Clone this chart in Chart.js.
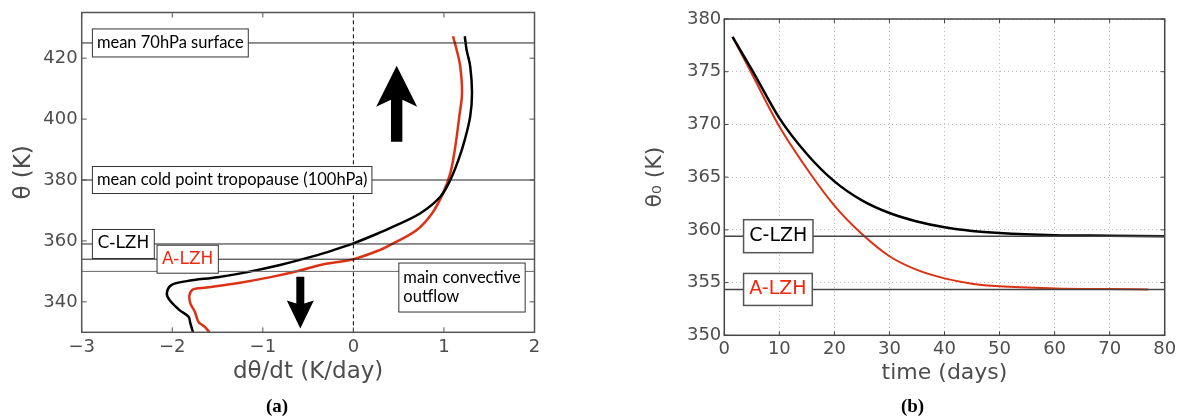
<!DOCTYPE html>
<html>
<head>
<meta charset="utf-8">
<script src="https://cdn.jsdelivr.net/npm/chart.js@4"></script>
<style>
  body { margin: 0; background: #fff; }
  #wrap { position: relative; width: 1177px; height: 418px; }
  canvas { position: absolute; top: 0; }
</style>
</head>
<body>
<div id="wrap">
  <canvas id="chartA" width="580" height="418" style="left:0"></canvas>
  <canvas id="chartB" width="597" height="418" style="left:580px"></canvas>
</div>
<script>
// ---- panel (a): heating-rate profiles, theta against dtheta/dt ----
const rateTicks = [-3, -2, -1, 0, 1, 2];
const thetaTicks = [340, 360, 380, 400, 420];
const rateRange = [-3, 2];
const thetaRange = [330, 435];
const refLevels = [425, 380, 359, 354, 350];   // 70hPa, cold point, C-LZH, A-LZH, outflow

// C-LZH profile (black)
const thetaC = [330, 332.9, 335.1, 337.3, 340.6, 342.8, 345.5, 346.8, 348.1, 349.6, 352.1, 355.0, 357.0, 359.2, 362.7, 364.7, 369.1, 374.5, 380.0, 386.6, 393.2, 400.9, 408.6, 417.3, 422.8, 427.2];
const rateC  = [-1.77, -1.80, -1.82, -1.92, -2.03, -2.06, -2.01, -1.84, -1.50, -1.20, -0.81, -0.44, -0.22, 0.0, 0.29, 0.44, 0.74, 0.96, 1.07, 1.16, 1.23, 1.29, 1.31, 1.29, 1.25, 1.23];
// A-LZH profile (red)
const thetaA = [330, 331.8, 333.4, 336.7, 339.5, 342.2, 344.1, 344.7, 346.3, 348.2, 350.2, 352.2, 354.0, 357.0, 359.2, 363.6, 369.1, 375.7, 382.2, 389.9, 400.9, 408.6, 417.3, 422.8, 427.2];
const rateA  = [-1.59, -1.64, -1.71, -1.75, -1.80, -1.81, -1.77, -1.62, -1.25, -0.90, -0.60, -0.35, 0.0, 0.29, 0.44, 0.70, 0.87, 0.99, 1.07, 1.12, 1.17, 1.20, 1.18, 1.14, 1.10];

// ---- panel (b): theta_0 against time ----
const timeTicks = [0, 10, 20, 30, 40, 50, 60, 70, 80];
const theta0Ticks = [350, 355, 360, 365, 370, 375, 380];
const lzhLevels = [359.4, 354.35];
const daysC   = [1.5, 5, 10, 15, 20, 25, 30, 35, 40, 45, 50, 60, 70, 80];
const theta0C = [378.3, 375.2, 370.6, 367.2, 364.6, 362.8, 361.6, 360.8, 360.25, 359.9, 359.7, 359.5, 359.45, 359.4];
const daysA   = [1.5, 5, 10, 15, 20, 25, 30, 35, 40, 45, 50, 60, 70, 77];
const theta0A = [378.3, 374.8, 369.8, 365.8, 362.3, 359.6, 357.5, 356.2, 355.4, 354.9, 354.65, 354.45, 354.38, 354.35];

const RED = '#dc3214';
const GREY = '#4d4d4d';
const SANS = '"DejaVu Sans", sans-serif';
const GILL = '16.5px Lato, sans-serif';

const pts = (xs, ys) => xs.map((v, i) => ({ x: v, y: ys[i] }));
const minus = v => (v < 0 ? '\u2212' + Math.abs(v) : String(v));

// boxes, arrows, frame with inward ticks, caption
const deco = {
  id: 'deco',
  afterDatasetsDraw(chart, args, opts) {
    const { ctx, chartArea: a, scales: { x, y } } = chart;
    ctx.save();
    (opts.arrows || []).forEach(ar => {
      const px = x.getPixelForValue(ar.x);
      const p0 = y.getPixelForValue(ar.from);
      const p1 = y.getPixelForValue(ar.to);
      const dir = Math.sign(p1 - p0);
      const base = p1 - dir * ar.head;
      const join = base + dir * ar.notch;
      ctx.beginPath();
      ctx.moveTo(px, p1);
      ctx.lineTo(px + ar.hw, base);
      ctx.lineTo(px + ar.sw, join);
      ctx.lineTo(px + ar.sw, p0);
      ctx.lineTo(px - ar.sw, p0);
      ctx.lineTo(px - ar.sw, join);
      ctx.lineTo(px - ar.hw, base);
      ctx.closePath();
      ctx.fillStyle = '#000';
      ctx.fill();
    });
    (opts.boxes || []).forEach(b => {
      ctx.font = b.font;
      const w = Math.max(...b.lines.map(l => ctx.measureText(l).width)) + 2 * b.pad;
      const left = x.getPixelForValue(b.x);
      const cy = y.getPixelForValue(b.y);
      const top = cy - b.h / 2;
      ctx.fillStyle = '#fff';
      ctx.fillRect(left, top, w, b.h);
      ctx.strokeStyle = opts.boxBorder;
      ctx.lineWidth = opts.boxWidth;
      ctx.strokeRect(left, top, w, b.h);
      ctx.fillStyle = b.color || '#000';
      ctx.textBaseline = 'middle';
      ctx.textAlign = 'left';
      b.lines.forEach((l, i) => {
        const ly = cy + (i - (b.lines.length - 1) / 2) * (b.lineGap || 0);
        ctx.fillText(l, left + b.pad, ly);
      });
    });
    // frame and inward ticks
    ctx.strokeStyle = opts.frameColor;
    ctx.lineWidth = 1.5;
    ctx.strokeRect(a.left, a.top, a.right - a.left, a.bottom - a.top);
    ctx.lineWidth = 1;
    ctx.beginPath();
    x.ticks.forEach(t => {
      const p = x.getPixelForValue(t.value);
      ctx.moveTo(p, a.bottom); ctx.lineTo(p, a.bottom - opts.tick);
      ctx.moveTo(p, a.top); ctx.lineTo(p, a.top + opts.tick);
    });
    y.ticks.forEach(t => {
      const p = y.getPixelForValue(t.value);
      ctx.moveTo(a.left, p); ctx.lineTo(a.left + opts.tick, p);
      ctx.moveTo(a.right, p); ctx.lineTo(a.right - opts.tick, p);
    });
    ctx.stroke();
    // caption
    ctx.font = 'bold 19px "Liberation Serif", serif';
    ctx.fillStyle = '#000';
    ctx.textAlign = 'center';
    ctx.textBaseline = 'alphabetic';
    ctx.fillText(opts.caption.text, opts.caption.x, opts.caption.y);
    ctx.restore();
  }
};

function axis(min, max, ticks, fmt, title, titleFont, titlePad, size) {
  return {
    type: 'linear', min, max,
    grid: { display: false, drawTicks: false },
    border: { display: false },
    afterBuildTicks: s => { s.ticks = ticks.map(v => ({ value: v })); },
    ticks: { callback: fmt, color: GREY, padding: 4, font: { family: SANS, size: 18 } },
    title: { display: true, text: title, color: GREY, font: { family: SANS, size: titleFont }, padding: titlePad },
    afterFit: s => {
      if (s.isHorizontal()) s.height = size; else s.width = size;
      s.paddingTop = 0; s.paddingBottom = 0; s.paddingLeft = 0; s.paddingRight = 0;
    }
  };
}

const line = (data, color, width, extra) => Object.assign({
  data, borderColor: color, borderWidth: width, showLine: true, pointRadius: 0, fill: false
}, extra || {});

new Chart(document.getElementById('chartA'), {
  type: 'scatter',
  data: {
    datasets: [
      ...refLevels.map((v, i) => line(pts(rateRange, [v, v]), i === 4 ? '#666' : '#222', 1)),
      line(pts([0, 0], thetaRange), '#000', 1, { borderDash: [4, 3] }),
      line(pts(rateC, thetaC), '#000', 2.5, { tension: 0.35 }),
      line(pts(rateA, thetaA), RED, 2.5, { tension: 0.35 })
    ]
  },
  options: {
    responsive: false, animation: false, events: [],
    layout: { padding: { left: 0, top: 12.5, right: 45.5, bottom: 0 } },
    plugins: {
      legend: { display: false }, tooltip: { enabled: false },
      deco: {
        frameColor: '#555', tick: 5, boxBorder: '#333', boxWidth: 1,
        caption: { text: '(a)', x: 277, y: 412 },
        arrows: [
          { x: 0.478, from: 392.6, to: 417.5, head: 41, hw: 20.5, sw: 5.7, notch: 7 },
          { x: -0.586, from: 348.2, to: 331.25, head: 28, hw: 13.5, sw: 4, notch: 3 }
        ],
        boxes: [
          { x: -2.882, y: 425, h: 28, pad: 4.5, font: GILL, lines: ['mean 70hPa surface'] },
          { x: -2.882, y: 380, h: 27, pad: 4.5, font: GILL, lines: ['mean cold point tropopause (100hPa)'] },
          { x: -2.882, y: 359, h: 29, pad: 5, font: '17px ' + SANS, lines: ['C-LZH'] },
          { x: -2.168, y: 354, h: 28, pad: 5, font: '17px ' + SANS, lines: ['A-LZH'], color: '#f02810' },
          { x: 0.502, y: 344.7, h: 49, pad: 4.5, font: GILL, lineGap: 19, lines: ['main convective', 'outflow'] }
        ]
      }
    },
    scales: {
      x: axis(rateRange[0], rateRange[1], rateTicks, minus, 'd\u03b8/dt (K/day)', 23, { top: 0, bottom: 32 }, 85.7),
      y: axis(thetaRange[0], thetaRange[1], thetaTicks, minus, '\u03b8 (K)', 23, { top: 10, bottom: 0 }, 81.7)
    }
  },
  plugins: [deco]
});

const chartBScales = {
  x: axis(0, 80, timeTicks, minus, 'time (days)', 22, { top: 0, bottom: 32 }, 82.7),
  y: axis(350, 380, theta0Ticks, minus, '\u03b8\u2080 (K)', 22, { top: 62, bottom: 0 }, 144.3)
};
['x', 'y'].forEach(k => {
  chartBScales[k].grid = { display: true, drawTicks: false, color: '#bdbdbd', lineWidth: 1 };
  chartBScales[k].border = { display: false, dash: [1, 3] };
  chartBScales[k].ticks.padding = 3;
});

new Chart(document.getElementById('chartB'), {
  type: 'scatter',
  data: {
    datasets: [
      ...lzhLevels.map(v => line(pts([0, 80], [v, v]), '#444', 1.5)),
      line(pts(daysC, theta0C), '#000', 2.5, { cubicInterpolationMode: 'monotone' }),
      line(pts(daysA, theta0A), RED, 2, { cubicInterpolationMode: 'monotone' })
    ]
  },
  options: {
    responsive: false, animation: false, events: [],
    layout: { padding: { left: 0, top: 19, right: 12.3, bottom: 0 } },
    plugins: {
      legend: { display: false }, tooltip: { enabled: false },
      deco: {
        frameColor: '#444', tick: 4, boxBorder: '#555', boxWidth: 1.5,
        caption: { text: '(b)', x: 332.5, y: 412 },
        boxes: [
          { x: 3.5, y: 359.4, h: 33, pad: 5.7, font: '19px ' + SANS, lines: ['C-LZH'] },
          { x: 3.5, y: 354.35, h: 32, pad: 5.7, font: '19px ' + SANS, lines: ['A-LZH'], color: '#f02810' }
        ]
      }
    },
    scales: chartBScales
  },
  plugins: [deco]
});
</script>
</body>
</html>
